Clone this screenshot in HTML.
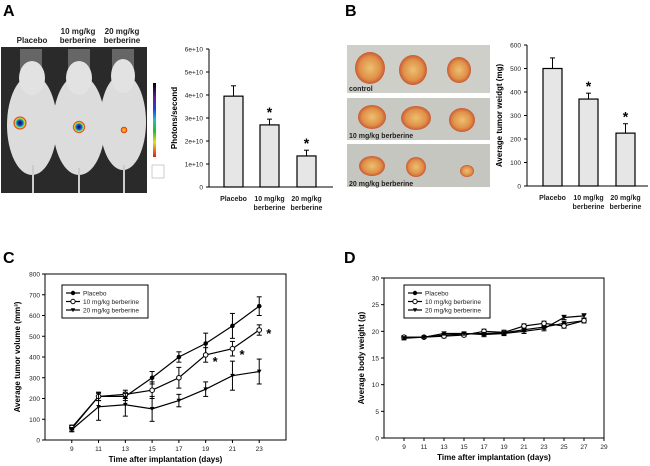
<!DOCTYPE html>
<html><head><meta charset="utf-8">
<style>
html,body{margin:0;padding:0;background:#fff;width:650px;height:466px;overflow:hidden}
svg{display:block;font-family:"Liberation Sans",Arial,sans-serif}
</style></head>
<body>
<svg id="fig" width="650" height="466" viewBox="0 0 650 466" xmlns="http://www.w3.org/2000/svg">
<defs>
<radialGradient id="rg1"><stop offset="0" stop-color="#101040"/><stop offset="0.35" stop-color="#2040c0"/><stop offset="0.55" stop-color="#20c0c0"/><stop offset="0.7" stop-color="#e0e020"/><stop offset="0.85" stop-color="#e03010"/><stop offset="1" stop-color="#e03010" stop-opacity="0"/></radialGradient>
<radialGradient id="rg2"><stop offset="0" stop-color="#f0e020"/><stop offset="0.6" stop-color="#f08010"/><stop offset="0.85" stop-color="#e02010"/><stop offset="1" stop-color="#e02010" stop-opacity="0"/></radialGradient>
<linearGradient id="cbar" x1="0" y1="0" x2="0" y2="1"><stop offset="0" stop-color="#000"/><stop offset="0.2" stop-color="#6020a0"/><stop offset="0.35" stop-color="#2040e0"/><stop offset="0.5" stop-color="#20c0c0"/><stop offset="0.65" stop-color="#20c020"/><stop offset="0.8" stop-color="#e0e020"/><stop offset="1" stop-color="#e02010"/></linearGradient>
<radialGradient id="tum"><stop offset="0" stop-color="#ecc070"/><stop offset="0.7" stop-color="#e09048"/><stop offset="1" stop-color="#c85a35"/></radialGradient>
</defs>
<g font-weight="bold" font-size="16">
<text x="3" y="16">A</text>
<text x="345" y="16">B</text>
<text x="3" y="263">C</text>
<text x="344" y="263">D</text>
</g>
<g>
<g font-size="8" font-weight="bold" text-anchor="middle" fill="#222">
<text x="32" y="43">Placebo</text>
<text x="78" y="34">10 mg/kg</text>
<text x="78" y="43">berberine</text>
<text x="122" y="34">20 mg/kg</text>
<text x="122" y="43">berberine</text>
</g>
<rect x="1" y="47" width="146" height="146" fill="#2a2a2a"/>
<rect x="20" y="49" width="22" height="24" fill="#666"/><rect x="68" y="49" width="22" height="24" fill="#666"/><rect x="112" y="49" width="22" height="24" fill="#666"/>
<ellipse cx="32" cy="125" rx="25" ry="50" fill="#dcdcdc"/><ellipse cx="32" cy="78" rx="13" ry="17" fill="#e2e2e2"/>
<ellipse cx="79" cy="125" rx="26" ry="50" fill="#dcdcdc"/><ellipse cx="79" cy="78" rx="13" ry="17" fill="#e2e2e2"/>
<ellipse cx="123" cy="122" rx="23" ry="48" fill="#dcdcdc"/><ellipse cx="123" cy="76" rx="12" ry="17" fill="#e2e2e2"/>
<rect x="32" y="165" width="2" height="28" fill="#ccc"/><rect x="78" y="168" width="2" height="25" fill="#ccc"/><rect x="123" y="165" width="2" height="28" fill="#ccc"/>
<circle cx="20" cy="123" r="7" fill="url(#rg1)"/>
<circle cx="79" cy="127" r="6.5" fill="url(#rg1)"/>
<circle cx="124" cy="130" r="3.5" fill="url(#rg2)"/>
<rect x="153" y="83" width="3" height="74" fill="url(#cbar)"/>
<rect x="152" y="165" width="12" height="13" fill="none" stroke="#999" stroke-width="0.5"/>
</g>
<g>
<rect x="347" y="45" width="143" height="48" fill="#cfcfca"/>
<rect x="347" y="98" width="143" height="42" fill="#c9c9c4"/>
<rect x="347" y="144" width="143" height="43" fill="#c6c6c1"/>
<ellipse cx="370" cy="68" rx="15" ry="16" fill="url(#tum)"/><ellipse cx="413" cy="70" rx="14" ry="15" fill="url(#tum)"/><ellipse cx="459" cy="70" rx="12" ry="13" fill="url(#tum)"/>
<ellipse cx="372" cy="117" rx="14" ry="12" fill="url(#tum)"/><ellipse cx="416" cy="118" rx="15" ry="12" fill="url(#tum)"/><ellipse cx="462" cy="120" rx="13" ry="12" fill="url(#tum)"/>
<ellipse cx="372" cy="166" rx="13" ry="10" fill="url(#tum)"/><ellipse cx="416" cy="167" rx="10" ry="10" fill="url(#tum)"/><ellipse cx="467" cy="171" rx="7" ry="6" fill="url(#tum)"/>
<g font-size="7" font-weight="bold" fill="#222">
<text x="349" y="91">control</text>
<text x="349" y="138">10 mg/kg berberine</text>
<text x="349" y="186">20 mg/kg berberine</text>
</g>
</g>
<g id="charts"></g>
</svg>
<script>
const aCats = ["Placebo", "10 mg/kg|berberine", "20 mg/kg|berberine"];
const aVals = [3.95, 2.7, 1.35];
const aErr = [0.45, 0.25, 0.25];
const aSig = [false, true, true];
const aTicks = [0, 1, 2, 3, 4, 5, 6];
const aTickLabels = ["0", "1e+10", "2e+10", "3e+10", "4e+10", "5e+10", "6e+10"];
const bCats = ["Placebo", "10 mg/kg|berberine", "20 mg/kg|berberine"];
const bVals = [500, 370, 225];
const bErr = [45, 25, 40];
const bSig = [false, true, true];
const bTicks = [0, 100, 200, 300, 400, 500, 600];
const cDays = [9, 11, 13, 15, 17, 19, 21, 23];
const cPlacebo = [55, 210, 210, 300, 400, 465, 550, 645];
const cPlaceboErr = [15, 20, 20, 30, 25, 50, 60, 45];
const c10 = [60, 210, 220, 240, 300, 410, 440, 530];
const c10Err = [12, 20, 20, 40, 50, 35, 35, 25];
const c20 = [50, 160, 170, 150, 190, 245, 310, 330];
const c20Err = [10, 65, 55, 60, 30, 35, 70, 60];
const cYTicks = [0, 100, 200, 300, 400, 500, 600, 700, 800];
const cXTicks = [9, 11, 13, 15, 17, 19, 21, 23];
const dDays = [9, 11, 13, 15, 17, 19, 21, 23, 25, 27];
const dPlacebo = [18.9, 18.9, 19.3, 19.5, 19.6, 19.7, 20.3, 20.8, 21.5, 22.0];
const d10 = [18.9, 18.9, 19.1, 19.3, 20.0, 19.8, 21.0, 21.5, 21.0, 22.0];
const d20 = [18.7, 18.9, 19.6, 19.6, 19.4, 19.6, 20.0, 20.5, 22.6, 22.9];
const dErr = [0.3, 0.2, 0.3, 0.3, 0.4, 0.4, 0.4, 0.4, 0.4, 0.4];
const dYTicks = [0, 5, 10, 15, 20, 25, 30];
const dXTicks = [9, 11, 13, 15, 17, 19, 21, 23, 25, 27, 29];

const NS = "http://www.w3.org/2000/svg";
const root = document.getElementById("charts");
function mk(tag, attrs, parent, txt) {
  const e = document.createElementNS(NS, tag);
  for (const k in attrs) e.setAttribute(k, attrs[k]);
  if (txt !== undefined) e.textContent = txt;
  (parent || root).appendChild(e);
  return e;
}
function lin(d0, d1, r0, r1) { return v => r0 + (v - d0) * (r1 - r0) / (d1 - d0); }

function barChart(name, cats, vals, errs, sig, ticks, tickLabels, x0, x1, yTop, yBot, yMax, barLefts, barW, ylab, ylabX) {
  const g = mk("g", {});
  
  
  const y = lin(0, yMax, yBot, yTop);
  const ax = mk("path", { d: `M${x0},${yTop} V${yBot} H${x1}`, stroke: "#000", fill: "none", "stroke-width": 1 }, g);
  
  
  ticks.forEach((t, i) => {
    mk("line", { x1: x0 - 3, x2: x0, y1: y(t), y2: y(t), stroke: "#000" }, g);
    const tl = mk("text", { x: x0 - 6, y: y(t) + 2.5, "font-size": 6.5, "text-anchor": "end", fill: "#222" }, g, tickLabels ? tickLabels[i] : String(t));
    
    
  });
  cats.forEach((c, i) => {
    const bx = barLefts[i];
    const cx = bx + barW / 2;
    mk("line", { x1: cx, x2: cx, y1: y(vals[i]), y2: y(vals[i] + errs[i]), stroke: "#000" }, g);
    mk("line", { x1: cx - 2.5, x2: cx + 2.5, y1: y(vals[i] + errs[i]), y2: y(vals[i] + errs[i]), stroke: "#000" }, g);
    const r = mk("rect", { x: bx, y: y(vals[i]), width: barW, height: yBot - y(vals[i]), fill: "#e6e6e6", stroke: "#000", "stroke-width": 1.2 }, g);
    
    
    if (sig[i]) {
      const s = mk("text", { x: cx, y: y(vals[i] + errs[i]) - 2, "font-size": 14, "font-weight": "bold", "text-anchor": "middle" }, g, "*");
      
      
    }
    c.split("|").forEach((p, j) => {
      const t = mk("text", { x: cx, y: yBot + 14 + j * 9, "font-size": 7, "font-weight": "bold", "text-anchor": "middle", fill: "#222" }, g, p);
      
      
    });
  });
  const yc = (yTop + yBot) / 2;
  const yl = mk("text", { x: ylabX, y: yc, "font-size": 8, "font-weight": "bold", "text-anchor": "middle", transform: `rotate(-90 ${ylabX} ${yc})` }, g, ylab);
  
  
}

barChart("chart-a-photons", aCats, aVals, aErr, aSig, aTicks, aTickLabels, 209, 333, 49, 187, 6, [224, 260, 297], 19, "Photons/second", 177);
barChart("chart-b-tumor-weight", bCats, bVals, bErr, bSig, bTicks, null, 527, 648, 45, 186, 600, [543, 579, 616], 19, "Average tumor weidgt (mg)", 502);

function marker(g, type, cx, cy, r) {
  if (type === "filled") return mk("circle", { cx, cy, r, fill: "#000" }, g);
  if (type === "open") return mk("circle", { cx, cy, r, fill: "#fff", stroke: "#000", "stroke-width": 1 }, g);
  return mk("path", { d: `M${cx - r},${cy - r * 0.8} L${cx + r},${cy - r * 0.8} L${cx},${cy + r} Z`, fill: "#000" }, g);
}

function lineChart(name, xd0, xd1, yMax, x0, x1, yTop, yBot, xTicks, yTicks, days, series, errs, ylab, ylabX, legX, legY, legW, stars) {
  const g = mk("g", {});
  
  
  const x = lin(xd0, xd1, x0, x1), y = lin(0, yMax, yBot, yTop);
  const fr = mk("rect", { x: x0, y: yTop, width: x1 - x0, height: yBot - yTop, fill: "none", stroke: "#000", "stroke-width": 1 }, g);
  
  
  yTicks.forEach(t => {
    mk("line", { x1: x0 - 3, x2: x0, y1: y(t), y2: y(t), stroke: "#000" }, g);
    const tl = mk("text", { x: x0 - 5, y: y(t) + 2.5, "font-size": 6.5, "text-anchor": "end", fill: "#222" }, g, String(t));
    
    
  });
  xTicks.forEach(t => {
    mk("line", { x1: x(t), x2: x(t), y1: yBot, y2: yBot + 3, stroke: "#000" }, g);
    const tl = mk("text", { x: x(t), y: yBot + 11, "font-size": 6.5, "text-anchor": "middle", fill: "#222" }, g, String(t));
    
    
  });
  const types = ["filled", "open", "tri"];
  const names = ["Placebo", "10 mg/kg berberine", "20 mg/kg berberine"];
  series.forEach((s, si) => {
    const sg = mk("g", {}, g);
    
    
    const e = errs[si];
    days.forEach((d, i) => {
      const xp = x(d);
      mk("line", { x1: xp, x2: xp, y1: y(s[i] - e[i]), y2: y(s[i] + e[i]), stroke: "#000" }, sg);
      mk("line", { x1: xp - 2.5, x2: xp + 2.5, y1: y(s[i] + e[i]), y2: y(s[i] + e[i]), stroke: "#000" }, sg);
      mk("line", { x1: xp - 2.5, x2: xp + 2.5, y1: y(s[i] - e[i]), y2: y(s[i] - e[i]), stroke: "#000" }, sg);
    });
    const pts = days.map((d, i) => `${x(d)},${y(s[i])}`).join(" ");
    const pl = mk("polyline", { points: pts, fill: "none", stroke: "#000", "stroke-width": 1.2 }, sg);
    
    
    days.forEach((d, i) => {
      const m = marker(sg, types[si], x(d), y(s[i]), 2.3);
      
      
    });
  });
  const lg = mk("g", {}, g);
  
  
  mk("rect", { x: legX, y: legY, width: legW, height: 33, fill: "#fff", stroke: "#000", "stroke-width": 1 }, lg);
  names.forEach((n, i) => {
    const ly = legY + 8 + i * 8.5;
    mk("line", { x1: legX + 4, x2: legX + 18, y1: ly, y2: ly, stroke: "#000", "stroke-width": 1.2 }, lg);
    marker(lg, types[i], legX + 11, ly, 2.2);
    const lt = mk("text", { x: legX + 21, y: ly + 2.5, "font-size": 6.5, fill: "#222" }, lg, n);
    
    
  });
  const xt = mk("text", { x: (x0 + x1) / 2, y: yBot + 22, "font-size": 8, "font-weight": "bold", "text-anchor": "middle" }, g, "Time after implantation (days)");
  
  
  const yc = (yTop + yBot) / 2;
  const yl = mk("text", { x: ylabX, y: yc, "font-size": 8, "font-weight": "bold", "text-anchor": "middle", transform: `rotate(-90 ${ylabX} ${yc})` }, g, ylab);
  
  
  (stars || []).forEach(st => {
    const s = mk("text", { x: x(st[0]) + 7, y: y(st[1]) + 7, "font-size": 13, "font-weight": "bold" }, g, "*");
    
    
  });
}

lineChart("chart-c-tumor-volume", 7, 25, 800, 45, 286, 274, 440, cXTicks, cYTicks, cDays,
  [cPlacebo, c10, c20], [cPlaceboErr, c10Err, c20Err], "Average tumor volume (mm³)", 20, 62, 285, 86,
  [[19, c10[5] - 20], [21, c10[6] - 15], [23, c10[7] - 5]]);
lineChart("chart-d-body-weight", 7, 29, 30, 384, 604, 278, 438, dXTicks, dYTicks, dDays,
  [dPlacebo, d10, d20], [dErr, dErr, dErr], "Average body weight (g)", 364, 404, 285, 86, []);
</script>
</body></html>
